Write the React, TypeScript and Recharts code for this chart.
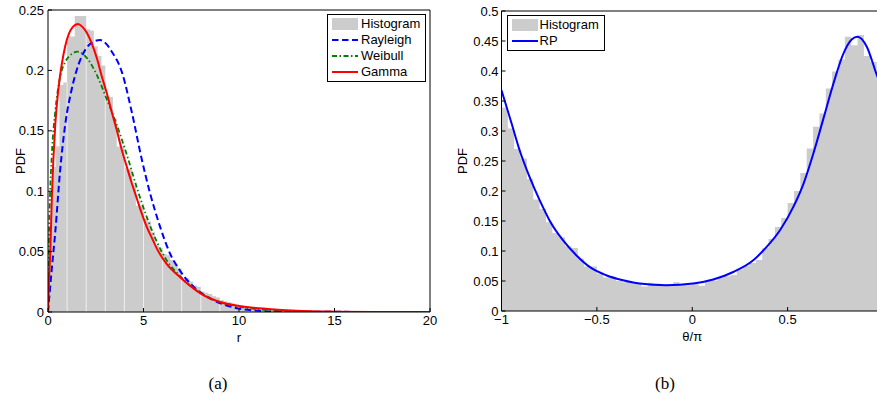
import React from 'react';
import { ComposedChart, Area, Line, XAxis, YAxis, Legend, ReferenceLine } from 'recharts';

const FONT = '"Liberation Sans", Arial, Helvetica, sans-serif';

// (a) amplitude r: histogram bins of width 0.2 from 0 to 20
const rBinWidth = 0.2;
const rHist = [
  0.07, 0.12, 0.137, 0.188, 0.19, 0.228, 0.228, 0.245, 0.245, 0.245,
  0.234, 0.233, 0.22, 0.212, 0.204, 0.178, 0.178, 0.16, 0.137, 0.137,
  0.119, 0.118, 0.105, 0.088, 0.088, 0.077, 0.075, 0.066, 0.055, 0.053,
  0.048, 0.047, 0.043, 0.04, 0.036, 0.028, 0.028, 0.025, 0.022, 0.021,
  0.017, 0.016, 0.015, 0.013, 0.012, 0.01, 0.009, 0.008, 0.007, 0.006,
  0.0055, 0.005, 0.0045, 0.004, 0.0035, 0.003, 0.0028, 0.0025, 0.0022, 0.002,
  0.0018, 0.0016, 0.0014, 0.0012, 0.001, 0.001, 0.0009, 0.0008, 0.0007, 0.0006,
  0.0005, 0.0005, 0.0005, 0.0005, 0.0005, 0.0004, 0.0004, 0.0003, 0.0003, 0.0003,
  0.0002, 0.0002, 0.0002, 0.0002, 0.0001, 0.0001, 0.0001, 0.0001, 0.0001, 0.0001,
  0, 0, 0, 0, 0, 0, 0, 0, 0, 0,
];
// thin light seams that show between histogram bars at whole numbers of r
const rSeams = [1, 2, 3, 4, 5, 6, 7, 8, 9, 10, 11, 12];

const rayleighR = [0, 0.2, 0.38, 0.64, 0.9, 1.25, 1.6, 1.95, 2.35, 2.73, 3.05, 3.34, 3.86, 4.38, 4.9, 5.35, 5.87, 6.4, 6.9, 7.45, 8, 8.86, 10, 11, 12, 20];
const rayleighPdf = [0, 0.036, 0.066, 0.118, 0.155, 0.185, 0.205, 0.217, 0.2235, 0.2251, 0.222, 0.2155, 0.199, 0.166, 0.127, 0.098, 0.0705, 0.048, 0.0345, 0.0235, 0.016, 0.0083, 0.0028, 0.001, 0.0003, 0];

const weibullR = [0, 0.02, 0.07, 0.2, 0.38, 0.64, 0.9, 1.2, 1.55, 1.8, 2.1, 2.56, 3.08, 3.6, 4.13, 4.65, 5.17, 5.7, 6.2, 6.9, 7.5, 8, 9, 10, 11.5, 13, 15, 20];
const weibullPdf = [0, 0.03, 0.075, 0.13, 0.166, 0.195, 0.207, 0.213, 0.2155, 0.214, 0.209, 0.196, 0.176, 0.155, 0.13, 0.103, 0.0787, 0.058, 0.043, 0.03, 0.021, 0.0157, 0.0083, 0.0045, 0.0015, 0.0004, 0.0001, 0];

const gammaR = [0, 0.05, 0.12, 0.2, 0.38, 0.55, 0.9, 1.3, 1.57, 1.8, 2.04, 2.3, 2.56, 2.8, 3.08, 3.35, 3.6, 3.85, 4.13, 4.4, 4.65, 4.9, 5.17, 5.45, 5.7, 6.2, 6.9, 7.5, 8, 9, 10, 11.5, 13, 15, 17, 20];
const gammaPdf = [0, 0.025, 0.05, 0.094, 0.155, 0.185, 0.22, 0.236, 0.2385, 0.236, 0.231, 0.222, 0.21, 0.196, 0.181, 0.165, 0.1506, 0.135, 0.12, 0.106, 0.094, 0.082, 0.0705, 0.061, 0.0525, 0.04, 0.029, 0.021, 0.0152, 0.0083, 0.005, 0.0025, 0.001, 0.0003, 0.0001, 0];

const rTicks = [0, 5, 10, 15, 20];
const pdfTicksA = [0, 0.05, 0.1, 0.15, 0.2, 0.25];

// (b) phase theta/pi: histogram bins of width 1/30 from -1 to 1
const tBinWidth = 1 / 30;
const tHist = [
  0.339, 0.304, 0.27, 0.254, 0.22, 0.186, 0.17, 0.148, 0.13, 0.123,
  0.108, 0.105, 0.087, 0.074, 0.074, 0.062, 0.056, 0.055, 0.05, 0.048,
  0.047, 0.045, 0.041, 0.047, 0.046, 0.043, 0.042, 0.048, 0.044, 0.043,
  0.045, 0.042, 0.05, 0.051, 0.055, 0.058, 0.06, 0.069, 0.075, 0.08,
  0.085, 0.105, 0.12, 0.14, 0.155, 0.18, 0.2, 0.23, 0.271, 0.307,
  0.329, 0.371, 0.399, 0.419, 0.457, 0.443, 0.46, 0.425, 0.415, 0.39,
];

const rpT = [-1, -0.947, -0.905, -0.853, -0.8, -0.748, -0.678, -0.608, -0.538, -0.451, -0.363, -0.276, -0.136, 0.005, 0.11, 0.215, 0.32, 0.39, 0.46, 0.53, 0.583, 0.635, 0.688, 0.74, 0.793, 0.837, 0.866, 0.915, 0.968, 1];
const rpPdf = [0.368, 0.3126, 0.268, 0.2236, 0.1847, 0.151, 0.118, 0.093, 0.0735, 0.0596, 0.0512, 0.0457, 0.0429, 0.0457, 0.0524, 0.065, 0.0846, 0.1068, 0.1346, 0.1735, 0.212, 0.2626, 0.321, 0.379, 0.4294, 0.4528, 0.457, 0.4405, 0.393, 0.368];

// the tick at 1 falls past the right edge of the picture
const tTicks = [-1, -0.5, 0, 0.5];
const pdfTicksB = [0, 0.05, 0.1, 0.15, 0.2, 0.25, 0.3, 0.35, 0.4, 0.45, 0.5];

const legendOrder = ['Histogram', 'Rayleigh', 'Weibull', 'Gamma', 'RP'];

const zip = (xs: number[], ys: number[]) => xs.map((x, i) => ({ x, y: ys[i] }));

const histData = (vals: number[], start: number, w: number) => {
  const pts = vals.map((h, i) => ({ x: start + i * w, h }));
  pts.push({ x: start + vals.length * w, h: vals[vals.length - 1] });
  return pts;
};

const histA = histData(rHist, 0, rBinWidth);
const histB = histData(tHist, -1, tBinWidth);

// seam height = lower of the two bars that meet at that edge
const seamTop = (x: number) => {
  const i = Math.round(x / rBinWidth);
  return Math.min(rHist[i - 1] ?? 0, rHist[i] ?? 0);
};

const lineStyles: Record<string, { dash?: string; width: number }> = {
  Rayleigh: { dash: '6.5 3.5', width: 2 },
  Weibull: { dash: '5 2.5 1.5 2.5', width: 1.8 },
  Gamma: { width: 2 },
  RP: { width: 2 },
};

const minus = (v: number) => (v < 0 ? '\u2212' + Math.abs(v) : String(v));

const tickStyle = { fill: '#000', fontSize: 13, fontFamily: FONT };
const labelStyle = { fill: '#000', fontSize: 13, fontFamily: FONT };

const BoxLegend = ({ payload, boxWidth, gap }: any) => {
  const items = [...(payload || [])].sort(
    (a: any, b: any) => legendOrder.indexOf(a.value) - legendOrder.indexOf(b.value)
  );
  return (
    <div
      style={{
        boxSizing: 'border-box',
        width: boxWidth,
        border: '1px solid #000',
        background: '#fff',
        padding: '1px 2px 1px 4px',
        fontFamily: FONT,
        fontSize: 13,
        lineHeight: '16px',
        color: '#000',
        textAlign: 'left',
      }}
    >
      {items.map((entry: any) => {
        const ls = lineStyles[entry.value];
        return (
          <div key={entry.value} style={{ display: 'flex', alignItems: 'center', height: 16 }}>
            <svg width={26} height={14} style={{ marginRight: gap, flex: 'none' }}>
              {entry.type === 'rect' ? (
                <rect x={0} y={1} width={26} height={12} fill={entry.color} />
              ) : (
                <line x1={0} x2={26} y1={7} y2={7} stroke={entry.color} strokeWidth={ls ? ls.width : 2} strokeDasharray={ls?.dash} />
              )}
            </svg>
            <span style={{ whiteSpace: 'nowrap' }}>{entry.value}</span>
          </div>
        );
      })}
    </div>
  );
};

const ChartA = () => (
  <ComposedChart width={440} height={345} margin={{ top: 9, right: 9, bottom: 5, left: 0 }}>
    <XAxis dataKey="x" type="number" domain={[0, 20]} ticks={rTicks} interval={0} tickSize={-4} tickMargin={8}
      stroke="#000" tick={tickStyle} height={28} allowDataOverflow
      label={{ value: 'r', position: 'insideBottom', offset: -2, style: labelStyle }} />
    <XAxis xAxisId="top" dataKey="x" orientation="top" type="number" domain={[0, 20]} ticks={rTicks} interval={0} tickSize={-4}
      stroke="#000" tick={false} height={1} allowDataOverflow />
    <YAxis type="number" domain={[0, 0.25]} ticks={pdfTicksA} interval={0} tickSize={-4} tickMargin={8} width={48}
      stroke="#000" tick={tickStyle} allowDataOverflow
      label={{ value: 'PDF', angle: -90, position: 'insideLeft', offset: 20, style: { ...labelStyle, textAnchor: 'middle' } }} />
    <YAxis yAxisId="right" orientation="right" type="number" domain={[0, 0.25]} ticks={pdfTicksA} interval={0} tickSize={-4}
      stroke="#000" tick={false} width={1} allowDataOverflow />
    <Legend content={<BoxLegend boxWidth={99} gap={3} />} layout="horizontal" align="center" verticalAlign="middle"
      wrapperStyle={{ left: 327, top: 14, width: 99 }} />
    <Area data={histA} xAxisId="top" yAxisId="right" dataKey="h" name="Histogram" type="stepAfter" fill="#cccccc"
      fillOpacity={1} stroke="none" legendType="rect" isAnimationActive={false} />
    {rSeams.map((x) => (
      <ReferenceLine key={x} segment={[{ x, y: 0 }, { x, y: seamTop(x) }]} stroke="#eeeeee" strokeWidth={1} />
    ))}
    <Line data={zip(rayleighR, rayleighPdf)} dataKey="y" name="Rayleigh" type="monotone" stroke="#0000ff"
      strokeWidth={2} strokeDasharray="6.5 3.5" dot={false} legendType="line" isAnimationActive={false} />
    <Line data={zip(weibullR, weibullPdf)} dataKey="y" name="Weibull" type="monotone" stroke="#008000"
      strokeWidth={1.8} strokeDasharray="5 2.5 1.5 2.5" dot={false} legendType="line" isAnimationActive={false} />
    <Line data={zip(gammaR, gammaPdf)} dataKey="y" name="Gamma" type="monotone" stroke="#ff0000"
      strokeWidth={2} dot={false} legendType="line" isAnimationActive={false} />
  </ComposedChart>
);

const ChartB = () => (
  <ComposedChart width={444} height={345} margin={{ top: 10, right: 0, bottom: 6, left: 0 }}>
    <XAxis dataKey="x" type="number" domain={[-1, 1]} ticks={tTicks} interval={0} tickSize={-4} tickMargin={8}
      stroke="#000" tick={tickStyle} tickFormatter={minus} height={28} allowDataOverflow
      label={{ value: '\u03b8/\u03c0', position: 'insideBottom', offset: -2, style: labelStyle }} />
    <XAxis xAxisId="top" dataKey="x" orientation="top" type="number" domain={[-1, 1]} ticks={tTicks} interval={0} tickSize={-4}
      stroke="#000" tick={false} height={1} allowDataOverflow />
    <YAxis type="number" domain={[0, 0.5]} ticks={pdfTicksB} interval={0} tickSize={-4} tickMargin={7} width={61.5}
      stroke="#000" tick={tickStyle} allowDataOverflow
      label={{ value: 'PDF', angle: -90, position: 'insideLeft', offset: 22, style: { ...labelStyle, textAnchor: 'middle' } }} />
    <YAxis yAxisId="right" orientation="right" type="number" domain={[0, 0.5]} ticks={pdfTicksB} interval={0} tickSize={-4}
      stroke="#000" tick={false} width={1} allowDataOverflow />
    <Legend content={<BoxLegend boxWidth={98} gap={1.5} />} layout="horizontal" align="center" verticalAlign="middle"
      wrapperStyle={{ left: 67, top: 15, width: 98 }} />
    <Area data={histB} xAxisId="top" yAxisId="right" dataKey="h" name="Histogram" type="stepAfter" fill="#cccccc"
      fillOpacity={1} stroke="none" legendType="rect" isAnimationActive={false} />
    <Line data={zip(rpT, rpPdf)} dataKey="y" name="RP" type="monotone" stroke="#0000ff"
      strokeWidth={2} dot={false} legendType="line" isAnimationActive={false} />
  </ComposedChart>
);

const captionStyle: React.CSSProperties = {
  position: 'absolute',
  top: 373,
  width: 60,
  textAlign: 'center',
  fontFamily: '"Liberation Serif", "DejaVu Serif", serif',
  fontSize: 17,
  lineHeight: '22px',
  color: '#000',
};

export default function App() {
  return (
    <div style={{ position: 'absolute', left: 0, top: 0, width: 877, height: 396, overflow: 'hidden', background: '#fff' }}>
      <div style={{ position: 'absolute', left: 0, top: 0 }}>
        <ChartA />
      </div>
      <div style={{ position: 'absolute', left: 440, top: 0 }}>
        <ChartB />
      </div>
      <div style={{ ...captionStyle, left: 188 }}>(a)</div>
      <div style={{ ...captionStyle, left: 635 }}>(b)</div>
    </div>
  );
}
